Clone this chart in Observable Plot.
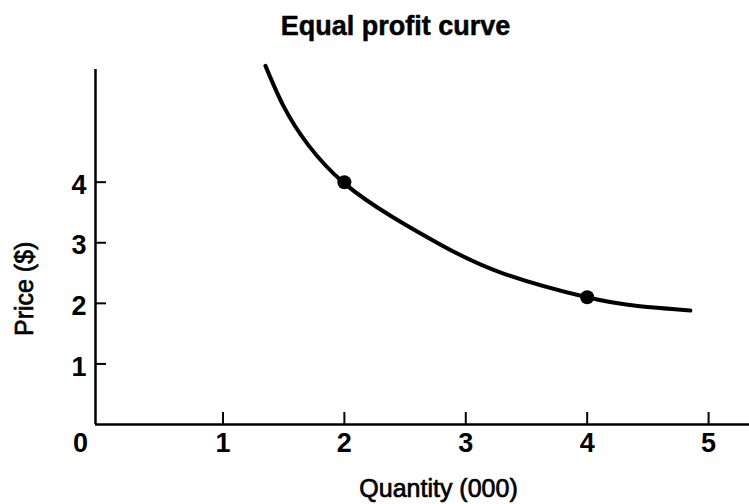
<!DOCTYPE html>
<html><head><meta charset="utf-8">
<script src="https://cdn.jsdelivr.net/npm/d3@7"></script>
<script src="https://cdn.jsdelivr.net/npm/@observablehq/plot@0.6"></script>
<style>body{margin:0;background:#fff}</style>
</head><body><div id="chart"></div>
<script>
const quantity = [1.35, 1.5, 1.7, 2.0, 2.4, 2.8, 3.3, 4.0, 4.4, 4.85];
const price = [5.92, 5.25, 4.62, 3.98, 3.42, 2.96, 2.5, 2.1, 1.96, 1.88];
const pointQuantity = [2, 4];
const pointPrice = [4, 2.1];
const xTicks = [1, 2, 3, 4, 5];
const yTicks = [1, 2, 3, 4];
const originLabel = ["0"];
const title = "Equal profit curve";
const xLabel = "Quantity (000)";
const yLabel = "Price ($)";

const curve = quantity.map((q, i) => ({q, p: price[i]}));
const points = pointQuantity.map((q, i) => ({q, p: pointPrice[i]}));
const font = "'Liberation Sans', Arial, Helvetica, sans-serif";
const xMin = -0.05;
const W = 749, H = 504, mL = 95, mR = 0, mT = 69, mB = 80;
const frameW = W - mL - mR, frameH = H - mT - mB;
const heavy = {fill: "black", stroke: "black", strokeWidth: 0.7, paintOrder: "fill"};

const chart = Plot.plot({
  width: W, height: H,
  marginLeft: mL, marginRight: mR, marginTop: mT, marginBottom: mB,
  style: {fontFamily: font, background: "white", color: "black", overflow: "visible"},
  x: {domain: [xMin, 5.337]},
  y: {domain: [0, 5.86]},
  marks: [
    Plot.ruleX([xMin], {stroke: "black", strokeWidth: 2.5}),
    Plot.ruleY([0], {stroke: "black", strokeWidth: 2.5}),
    Plot.tickX(xTicks, {x: d => d, insetTop: frameH - 12, stroke: "black", strokeWidth: 2}),
    Plot.tickY(yTicks, {y: d => d, insetRight: frameW - 11, stroke: "black", strokeWidth: 2}),
    Plot.axisX({ticks: xTicks, tickSize: 0, tickPadding: 8, tickFormat: d => String(d), fontSize: 27, fontWeight: "bold", label: null}),
    Plot.axisY({ticks: yTicks, tickSize: 0, tickPadding: 9, tickFormat: d => String(d), fontSize: 27, fontWeight: "bold", label: null, dy: 3}),
    Plot.text(originLabel, {x: () => 0, y: () => 0, text: d => d, dx: -21, dy: 8, lineAnchor: "top", fontSize: 27, fontWeight: "bold"}),
    Plot.line(curve, {x: "q", y: "p", curve: "natural", stroke: "black", strokeWidth: 4, strokeLinecap: "round"}),
    Plot.dot(points, {x: "q", y: "p", r: 7, fill: "black"}),
    Plot.text([title], {frameAnchor: "top", text: d => d, dx: -27, dy: -43, lineAnchor: "middle", fontSize: 27, fontWeight: "bold", ...heavy, strokeWidth: 0.5}),
    Plot.text([xLabel], {frameAnchor: "bottom", text: d => d, dx: 16, dy: 64, lineAnchor: "middle", fontSize: 25, ...heavy}),
    Plot.text([yLabel], {x: () => xMin, y: () => 2.24, text: d => d, dx: -71, rotate: -90, lineAnchor: "middle", fontSize: 25, ...heavy})
  ]
});
document.getElementById("chart").appendChild(chart);
</script>
</body></html>
